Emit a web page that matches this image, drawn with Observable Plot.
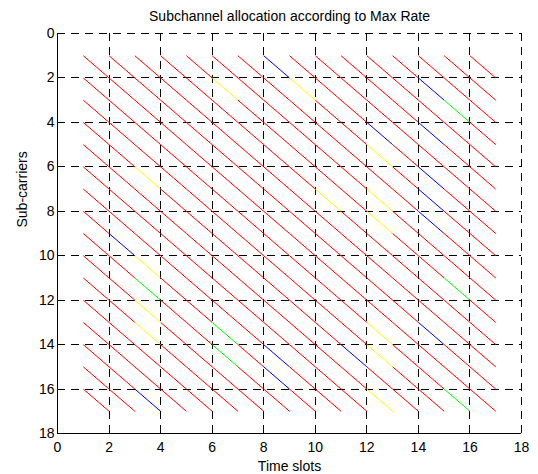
<!DOCTYPE html>
<html>
<head>
<meta charset="utf-8">
<script src="https://cdn.jsdelivr.net/npm/d3@7"></script>
<script src="https://cdn.jsdelivr.net/npm/@observablehq/plot@0.6"></script>
<style>
  html, body { margin: 0; padding: 0; background: #fff; }
  #chart svg { display: block; }
</style>
</head>
<body>
<div id="chart"></div>
<script>
// ---- Data ----
const title = "Subchannel allocation according to Max Rate";
const xLabel = "Time slots";
const yLabel = "Sub-carriers";
const xTicks = [0, 2, 4, 6, 8, 10, 12, 14, 16, 18];
const yTicks = [0, 2, 4, 6, 8, 10, 12, 14, 16, 18];
const timeSlots = [1, 2, 3, 4, 5, 6, 7, 8, 9, 10, 11, 12, 13, 14, 15, 16];
const subcarriers = [1, 2, 3, 4, 5, 6, 7, 8, 9, 10, 11, 12, 13, 14, 15, 16];
const userIds = [1, 2, 3, 4];
const userColors = ["#ff0000", "#ffff00", "#0000ff", "#00ff00"];
// allocation[s-1][t-1] = user assigned to sub-carrier s in time slot t
const allocation = [
  [1,1,1,1,1,1,1,3,1,1,1,1,1,1,1,1],
  [1,1,1,1,1,2,1,1,2,1,1,1,1,3,1,1],
  [1,1,1,1,1,1,1,1,1,1,1,1,1,1,4,1],
  [1,1,1,1,1,1,1,1,1,1,1,3,1,3,1,1],
  [1,1,1,1,1,1,1,1,1,1,1,2,1,1,1,1],
  [1,1,2,1,1,1,1,1,1,1,1,1,1,3,1,1],
  [1,1,1,1,1,1,1,1,1,2,1,2,1,3,1,1],
  [1,1,1,1,1,1,1,1,1,1,1,2,1,3,1,1],
  [1,3,1,1,1,1,1,1,1,1,1,1,1,1,1,1],
  [1,1,2,1,1,1,1,1,1,1,1,1,1,1,1,1],
  [1,1,4,1,1,1,1,1,1,1,1,1,1,1,4,1],
  [1,1,2,1,1,1,1,1,1,1,1,1,1,1,1,1],
  [1,1,2,1,1,4,1,1,1,1,1,2,1,3,1,1],
  [1,1,1,1,1,4,1,3,1,1,3,2,1,1,1,1],
  [1,1,1,1,1,1,1,3,1,1,1,1,1,1,1,1],
  [1,1,3,1,1,1,1,1,1,1,1,2,1,1,4,1]
];

// Build segment table: each cell drawn as a diagonal from (t, s) to (t+1, s+1)
const cells = [];
subcarriers.forEach((s, i) => {
  timeSlots.forEach((t, j) => {
    cells.push({t, s, t2: t + 1, s2: s + 1, user: allocation[i][j]});
  });
});

const font = "'Liberation Sans', Arial, Helvetica, sans-serif";

const chart = Plot.plot({
  width: 538,
  height: 474,
  marginLeft: 57,
  marginRight: 17,
  marginTop: 33,
  marginBottom: 41,
  style: {fontFamily: font, fontSize: "14px", background: "#fff", color: "#000"},
  x: {domain: [xTicks[0], xTicks[xTicks.length - 1]], ticks: xTicks},
  y: {domain: [yTicks[0], yTicks[yTicks.length - 1]], reverse: true, ticks: yTicks},
  color: {type: "ordinal", domain: userIds, range: userColors},
  marks: [
    Plot.gridX(xTicks, {stroke: "#000", strokeOpacity: 1, strokeWidth: 1, strokeDasharray: "8,6", shapeRendering: "crispEdges"}),
    Plot.gridY(yTicks, {stroke: "#000", strokeOpacity: 1, strokeWidth: 1, strokeDasharray: "8,6", shapeRendering: "crispEdges"}),
    Plot.link(cells, {x1: "t", y1: "s", x2: "t2", y2: "s2", stroke: "user", strokeWidth: 1}),
    Plot.ruleX([xTicks[0]], {stroke: "#000", strokeWidth: 1, shapeRendering: "crispEdges"}),
    Plot.ruleY([yTicks[yTicks.length - 1]], {stroke: "#000", strokeWidth: 1, shapeRendering: "crispEdges"}),
    Plot.axisX(xTicks, {tickSize: 0, tickPadding: 9, label: null, fontSize: 14}),
    Plot.axisY(yTicks, {tickSize: 0, tickPadding: 3, label: null, fontSize: 14}),
    Plot.text([title], {frameAnchor: "top", lineAnchor: "middle", dy: -16.5, fontSize: 14, fill: "#000"}),
    Plot.text([xLabel], {frameAnchor: "bottom", lineAnchor: "middle", dy: 33.5, fontSize: 14, fill: "#000"}),
    Plot.text([yLabel], {frameAnchor: "left", lineAnchor: "middle", rotate: -90, dx: -35, dy: -6, fontSize: 14, fill: "#000", letterSpacing: "1px"})
  ]
});

document.getElementById("chart").appendChild(chart);
</script>
</body>
</html>
